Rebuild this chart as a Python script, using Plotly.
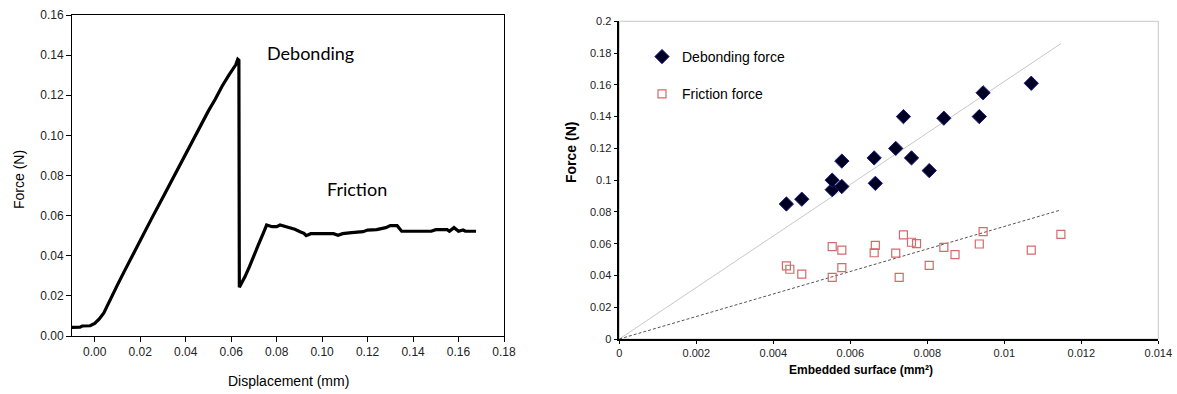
import numpy as np
import plotly.graph_objects as go

# ---------------- Left chart: force-displacement curve ----------------
disp_mm = [-0.0100, -0.0080, -0.0065, -0.0055, -0.0040, -0.0020, 0.0000, 0.0020, 0.0040,
           0.0067, 0.0100, 0.0130, 0.0160, 0.0200, 0.0250, 0.0300, 0.0350, 0.0400, 0.0450,
           0.0500, 0.0530, 0.0560, 0.0590, 0.0610, 0.0620, 0.0629, 0.0634,
           0.0636, 0.0650, 0.0661, 0.0680, 0.0697, 0.0720, 0.0741, 0.0756, 0.0780,
           0.0800, 0.0815, 0.0850, 0.0880, 0.0903, 0.0920, 0.0930, 0.0950, 0.1000, 0.1050,
           0.1070, 0.1090, 0.1130, 0.1180, 0.1200, 0.1240, 0.1280, 0.1300, 0.1330, 0.1350,
           0.1400, 0.1430, 0.1480, 0.1500, 0.1550, 0.1560, 0.1580, 0.1600, 0.1620, 0.1630,
           0.1677]
force_N = [0.0043, 0.0043, 0.0044, 0.0050, 0.0050, 0.0051, 0.0063, 0.0085, 0.0115,
           0.0180, 0.0255, 0.0322, 0.0390, 0.0480, 0.0585, 0.0692, 0.0800, 0.0910, 0.1018,
           0.1122, 0.1180, 0.1245, 0.1300, 0.1335, 0.1352, 0.1380, 0.1375,
           0.0243, 0.0270, 0.0296, 0.0345, 0.0395, 0.0455, 0.0512, 0.0553, 0.0545,
           0.0545, 0.0553, 0.0542, 0.0532, 0.0520, 0.0512, 0.0500, 0.0510, 0.0510, 0.0510,
           0.0502, 0.0510, 0.0515, 0.0520, 0.0528, 0.0530, 0.0540, 0.0550, 0.0550, 0.0522,
           0.0522, 0.0522, 0.0522, 0.0530, 0.0530, 0.0522, 0.0540, 0.0522, 0.0528, 0.0522,
           0.0522]

left_xticks = [0.00, 0.02, 0.04, 0.06, 0.08, 0.10, 0.12, 0.14, 0.16, 0.18]
left_yticks = [0.00, 0.02, 0.04, 0.06, 0.08, 0.10, 0.12, 0.14, 0.16]

# ---------------- Right chart: force vs embedded surface ----------------
deb_surface = [0.00434, 0.00474, 0.00553, 0.00553, 0.00578, 0.00578, 0.00662, 0.00665,
               0.00718, 0.00738, 0.00759, 0.00805, 0.00843, 0.00935, 0.00945, 0.01070]
deb_force = [0.085, 0.088, 0.094, 0.100, 0.096, 0.112, 0.114, 0.098,
             0.120, 0.140, 0.114, 0.106, 0.139, 0.140, 0.155, 0.161]

fric_surface = [0.00434, 0.00443, 0.00474, 0.00553, 0.00553, 0.00578, 0.00578, 0.00662,
                0.00665, 0.00718, 0.00727, 0.00738, 0.00759, 0.00772, 0.00805, 0.00843,
                0.00872, 0.00935, 0.00945, 0.01070, 0.01147]
fric_force = [0.0460, 0.0439, 0.0409, 0.0581, 0.0388, 0.0560, 0.0449, 0.0543,
              0.0590, 0.0540, 0.0388, 0.0655, 0.0609, 0.0600, 0.0464, 0.0577,
              0.0531, 0.0598, 0.0676, 0.0560, 0.0659]

right_xticks = [0, 0.002, 0.004, 0.006, 0.008, 0.010, 0.012, 0.014]
right_xtext = ["0", "0.002", "0.004", "0.006", "0.008", "0.01", "0.012", "0.014"]
right_yticks = [0, 0.02, 0.04, 0.06, 0.08, 0.10, 0.12, 0.14, 0.16, 0.18, 0.20]
right_ytext = ["0", "0.02", "0.04", "0.06", "0.08", "0.1", "0.12", "0.14", "0.16", "0.18", "0.2"]

# Linear trendlines through the origin (least squares)
def slope0(x, y):
    x = np.asarray(x); y = np.asarray(y)
    return float((x * y).sum() / (x * x).sum())

k_deb = slope0(deb_surface, deb_force)
k_fric = slope0(fric_surface, fric_force)
x_end = max(max(deb_surface), max(fric_surface))
trend_x = np.array([0.0, x_end])

W, H = 1177, 394
def px(v):
    return v / W
def py(v):
    return 1 - v / H

fig = go.Figure()

fig.add_trace(go.Scatter(x=disp_mm, y=force_N, mode="lines",
                         line=dict(color="black", width=3.2),
                         xaxis="x", yaxis="y", showlegend=False))

fig.add_trace(go.Scatter(x=trend_x, y=k_deb * trend_x, mode="lines",
                         line=dict(color="#c8c8c8", width=1),
                         xaxis="x2", yaxis="y2", showlegend=False, hoverinfo="skip"))
fig.add_trace(go.Scatter(x=trend_x, y=k_fric * trend_x, mode="lines",
                         line=dict(color="#555555", width=1, dash="3px,2px"),
                         xaxis="x2", yaxis="y2", showlegend=False, hoverinfo="skip"))

fig.add_trace(go.Scatter(x=deb_surface, y=deb_force, mode="markers", name="Debonding force",
                         marker=dict(symbol="diamond", size=11, color="#000022",
                                     line=dict(color="#1a1a80", width=1)),
                         xaxis="x2", yaxis="y2", legendgroup="a"))
fig.add_trace(go.Scatter(x=fric_surface, y=fric_force, mode="markers", name="Friction force",
                         marker=dict(symbol="square-open", size=8, color="#d46a6a",
                                     line=dict(width=1.2)),
                         xaxis="x2", yaxis="y2", legendgroup="b"))

tick_font_l = dict(family="Liberation Sans, Arial", size=12, color="#222222")
tick_font_r = dict(family="Liberation Sans, Arial", size=11, color="#222222")

def ann(text, x, y, size, family="Liberation Sans, Arial", angle=0):
    return dict(text=text, x=px(x), y=py(y), xref="paper", yref="paper",
                xanchor="center", yanchor="middle", textangle=angle,
                showarrow=False, font=dict(family=family, size=size, color="black"))

fig.update_layout(
    width=W, height=H, autosize=False,
    margin=dict(l=0, r=0, t=0, b=0, pad=0),
    paper_bgcolor="white", plot_bgcolor="white",
    xaxis=dict(domain=[px(72), px(504)], range=[-0.01, 0.18],
               tickvals=left_xticks, tickformat=".2f",
               showgrid=False, zeroline=False,
               showline=True, linecolor="black", linewidth=1, mirror=True,
               ticks="outside", ticklen=5, tickcolor="black",
               tickfont=tick_font_l, anchor="y", automargin=False),
    yaxis=dict(domain=[py(336), py(15)], range=[0, 0.16],
               tickvals=left_yticks, tickformat=".2f",
               showgrid=False, zeroline=False,
               showline=True, linecolor="black", linewidth=1, mirror=True,
               ticks="outside", ticklen=5, tickcolor="black",
               tickfont=tick_font_l, anchor="x", automargin=False),
    xaxis2=dict(domain=[px(619.3), px(1158.3)], range=[0, 0.014],
                tickvals=right_xticks, ticktext=right_xtext,
                showgrid=False, zeroline=False,
                showline=True, linecolor="black", linewidth=1.5,
                ticks="outside", ticklen=3, tickcolor="black",
                tickfont=tick_font_r, anchor="y2", automargin=False),
    yaxis2=dict(domain=[py(339), py(21.3)], range=[0, 0.2],
                tickvals=right_yticks, ticktext=right_ytext,
                showgrid=False, zeroline=False,
                showline=True, linecolor="black", linewidth=1.5,
                ticks="outside", ticklen=4, tickcolor="black",
                tickfont=tick_font_r, anchor="x2", automargin=False),
    legend=dict(x=px(642), y=py(41), xanchor="left", yanchor="top",
                bgcolor="rgba(0,0,0,0)", borderwidth=0,
                font=dict(family="Liberation Sans, Arial", size=14, color="black"),
                tracegroupgap=16),
    shapes=[dict(type="rect", xref="x2 domain", yref="y2 domain", x0=0, x1=1, y0=0, y1=1,
                 line=dict(color="#c8c8c8", width=1), layer="below")],
    annotations=[
        ann("Debonding", 310, 53, 18, family="Lato"),
        ann("Friction", 357, 189, 18, family="Lato"),
        ann("Displacement (mm)", 288, 381, 14),
        ann("Force (N)", 19, 180, 14, angle=-90),
        ann("<b>Embedded surface (mm²)</b>", 861, 370, 12),
        ann("<b>Force (N)</b>", 571, 153, 14, angle=-90),
    ],
)

fig.write_html("out.html",
               post_script="document.documentElement.style.margin='0';"
                           "document.body.style.margin='0';"
                           "document.body.style.overflow='hidden';")
